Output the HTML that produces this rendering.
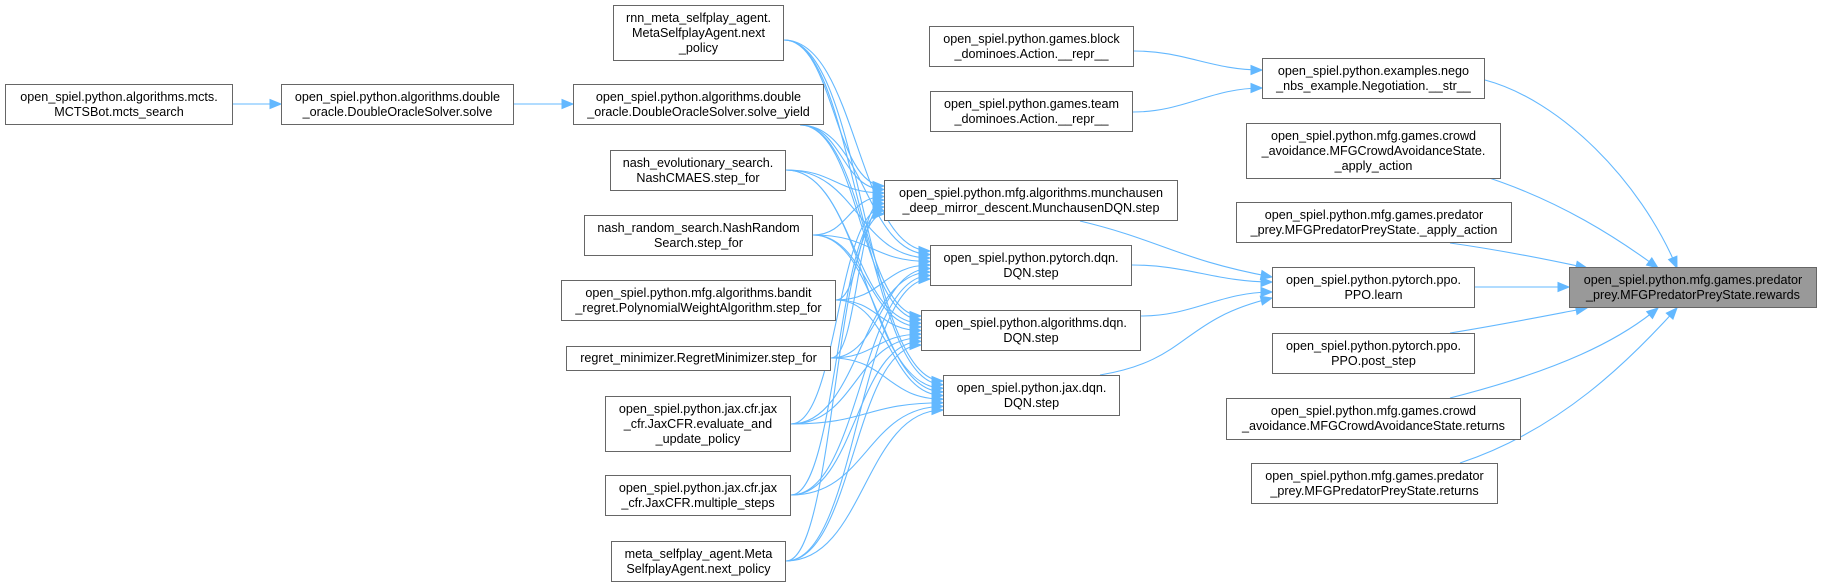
<!DOCTYPE html>
<html><head><meta charset="utf-8"><style>
html,body{margin:0;padding:0;background:#fff;}
body{width:1821px;height:587px;position:relative;overflow:hidden;font-family:"Liberation Sans",Arial,sans-serif;}
.n{position:absolute;box-sizing:border-box;border:1px solid #666;background:#fff;font-size:12.6px;line-height:15px;color:#000;text-align:center;display:flex;align-items:center;justify-content:center;white-space:nowrap;}
.g{background:#999;}
svg{position:absolute;left:0;top:0;}
</style></head><body>
<svg id="s" width="1821" height="587"></svg>
<div class="n" style="left:5px;top:84px;width:228px;height:41px">open_spiel.python.algorithms.mcts.<br>MCTSBot.mcts_search</div>
<div class="n" style="left:281px;top:84px;width:233px;height:41px">open_spiel.python.algorithms.double<br>_oracle.DoubleOracleSolver.solve</div>
<div class="n" style="left:613px;top:5px;width:171px;height:56px">rnn_meta_selfplay_agent.<br>MetaSelfplayAgent.next<br>_policy</div>
<div class="n" style="left:573px;top:84px;width:251px;height:41px">open_spiel.python.algorithms.double<br>_oracle.DoubleOracleSolver.solve_yield</div>
<div class="n" style="left:610px;top:150px;width:176px;height:41px">nash_evolutionary_search.<br>NashCMAES.step_for</div>
<div class="n" style="left:584px;top:215px;width:229px;height:41px">nash_random_search.NashRandom<br>Search.step_for</div>
<div class="n" style="left:561px;top:280px;width:275px;height:41px">open_spiel.python.mfg.algorithms.bandit<br>_regret.PolynomialWeightAlgorithm.step_for</div>
<div class="n" style="left:566px;top:346px;width:265px;height:25px">regret_minimizer.RegretMinimizer.step_for</div>
<div class="n" style="left:605px;top:396px;width:186px;height:56px">open_spiel.python.jax.cfr.jax<br>_cfr.JaxCFR.evaluate_and<br>_update_policy</div>
<div class="n" style="left:605px;top:475px;width:186px;height:41px">open_spiel.python.jax.cfr.jax<br>_cfr.JaxCFR.multiple_steps</div>
<div class="n" style="left:611px;top:541px;width:175px;height:41px">meta_selfplay_agent.Meta<br>SelfplayAgent.next_policy</div>
<div class="n" style="left:929px;top:26px;width:205px;height:41px">open_spiel.python.games.block<br>_dominoes.Action.__repr__</div>
<div class="n" style="left:930px;top:91px;width:203px;height:41px">open_spiel.python.games.team<br>_dominoes.Action.__repr__</div>
<div class="n" style="left:884px;top:180px;width:294px;height:41px">open_spiel.python.mfg.algorithms.munchausen<br>_deep_mirror_descent.MunchausenDQN.step</div>
<div class="n" style="left:930px;top:245px;width:202px;height:41px">open_spiel.python.pytorch.dqn.<br>DQN.step</div>
<div class="n" style="left:921px;top:310px;width:220px;height:41px">open_spiel.python.algorithms.dqn.<br>DQN.step</div>
<div class="n" style="left:943px;top:375px;width:177px;height:41px">open_spiel.python.jax.dqn.<br>DQN.step</div>
<div class="n" style="left:1262px;top:58px;width:223px;height:41px">open_spiel.python.examples.nego<br>_nbs_example.Negotiation.__str__</div>
<div class="n" style="left:1246px;top:123px;width:255px;height:56px">open_spiel.python.mfg.games.crowd<br>_avoidance.MFGCrowdAvoidanceState.<br>_apply_action</div>
<div class="n" style="left:1236px;top:202px;width:276px;height:41px">open_spiel.python.mfg.games.predator<br>_prey.MFGPredatorPreyState._apply_action</div>
<div class="n" style="left:1272px;top:267px;width:203px;height:41px">open_spiel.python.pytorch.ppo.<br>PPO.learn</div>
<div class="n" style="left:1272px;top:333px;width:203px;height:41px">open_spiel.python.pytorch.ppo.<br>PPO.post_step</div>
<div class="n" style="left:1226px;top:398px;width:295px;height:42px">open_spiel.python.mfg.games.crowd<br>_avoidance.MFGCrowdAvoidanceState.returns</div>
<div class="n" style="left:1251px;top:463px;width:247px;height:41px">open_spiel.python.mfg.games.predator<br>_prey.MFGPredatorPreyState.returns</div>
<div class="n g" style="left:1569px;top:267px;width:248px;height:41px">open_spiel.python.mfg.games.predator<br>_prey.MFGPredatorPreyState.rewards</div>
<script>
var s=document.getElementById('s'),C='#63b8ff',h='';
function e(x1,y1,c1x,c1y,c2x,c2y,x2,y2){
 h+='<path d="M'+x1+','+y1+' C'+c1x+','+c1y+' '+c2x+','+c2y+' '+x2+','+y2+'" fill="none" stroke="'+C+'" stroke-width="1.1"/>';
 var dx=x2-c2x,dy=y2-c2y,l=Math.hypot(dx,dy)||1;dx/=l;dy/=l;
 var bx=x2-dx*11,by=y2-dy*11,px=-dy*4.5,py=dx*4.5;
 h+='<polygon points="'+x2+','+y2+' '+(bx+px)+','+(by+py)+' '+(bx-px)+','+(by-py)+'" fill="'+C+'" stroke="'+C+'"/>';
}
function H(x1,y1,x2,y2){var d=(x2-x1)*0.4;e(x1,y1,x1+d,y1,x2-d,y2,x2,y2);}
H(233,104,281,104);H(514,104,573,104);
H(1134,51,1262,70);H(1133,112,1262,88);
H(1475,287,1569,287);
e(1485,80,1560,100,1640,180,1677,268);
e(1480,175,1560,200,1620,240,1658,268);
e(1450,243,1500,250,1550,260,1587,268);
e(1450,333,1500,325,1550,315,1587,308);
e(1450,398,1560,370,1620,340,1658,308);
e(1460,463,1560,430,1630,360,1677,308);
// dqn -> ppo
e(1080,221,1160,240,1180,260,1272,277);
H(1132,265,1272,282);
H(1141,316,1272,292);
e(1100,375,1190,360,1180,320,1272,298);
// column3 -> dqn
var src=[[784,40],[800,125],[786,170],[813,235],[836,300],[831,358],[791,424],[791,495],[786,561]];
var tg=[[884,180,220],[930,245,285],[921,310,351],[943,375,416]];
for(var j=0;j<tg.length;j++){var t=tg[j];
 for(var i=0;i<src.length;i++){var sx=src[i][0],sy=src[i][1];
  var ty=t[1]+6+(t[2]-t[1]-12)*i/(src.length-1);
  var d=(t[0]-sx)*0.5;
  e(sx,sy,sx+d,sy,t[0]-d,ty,t[0],ty);}}
s.innerHTML=h;
</script>
</body></html>
